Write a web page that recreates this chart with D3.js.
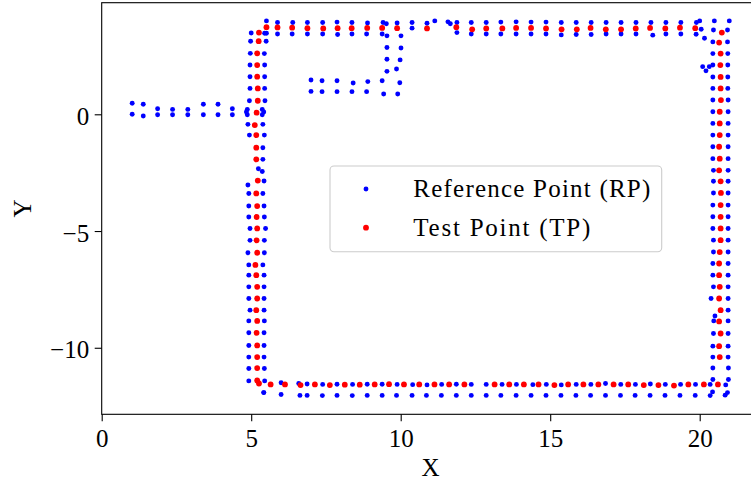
<!DOCTYPE html>
<html><head><meta charset="utf-8">
<script src="https://cdn.jsdelivr.net/npm/d3@7"></script>
<style>
body{margin:0;background:#fff}
text{font-family:"Liberation Serif","Times New Roman",serif;fill:#000}
</style>
</head><body>
<svg id="chart" width="751" height="484"></svg>
<script>
// ---------- data ----------
const xTicks = [0, 5, 10, 15, 20];
const yTicks = [-10, -5, 0];
const xDomain = [0, 22];
const yDomain = [-12.85, 4.78];
const legendLabels = ["Reference Point (RP)", "Test Point (TP)"];
const seriesColors = ["#0000ff", "#ff0000"];

// Reference points (blue), grouped by part of the path
const rpWestBranch = [
  [1.02,0.47],[1.39,0.43],[1.87,0.24],[2.37,0.21],[2.88,0.21],[3.40,0.43],[3.89,0.43],[4.37,0.24],[4.87,0.21],[5.37,0.21],
  [1.02,0.00],[1.39,-0.07],[1.87,-0.02],[2.37,-0.02],[2.88,-0.02],[3.40,-0.02],[3.89,-0.02],[4.37,-0.02],[4.87,-0.02],[5.37,-0.02],
  [4.84,0.10],[5.42,0.10]
];
const rpInnerBranch = [
  [7.00,1.47],[7.37,1.44],[7.87,1.44],[8.41,1.34],[8.90,1.40],[9.38,1.44],[9.97,1.35],
  [7.00,0.98],[7.37,0.97],[7.87,0.97],[8.37,0.97],[8.86,0.97],[9.43,0.87],[9.90,0.87],
  [9.54,3.36],[10.01,3.36],[9.54,2.86],[10.01,2.84],[9.54,2.36],[9.98,2.33],[9.54,1.84],[9.86,1.94]
];
const rpWestWall = [
  [5.00,3.48],[4.98,3.13],[4.97,2.61],[4.96,2.11],[4.96,1.61],[4.96,1.11],[4.94,0.58],[4.89,-0.43],[4.94,-0.89],
  [4.89,-3.03],[4.92,-3.39],[4.92,-3.93],[4.92,-4.40],[4.96,-4.89],[4.96,-5.40],[4.89,-5.93],[4.92,-6.45],[4.92,-6.89],
  [4.92,-7.39],[4.92,-7.89],[4.96,-8.39],[4.92,-8.85],[4.92,-9.36],[4.92,-9.90],[4.92,-10.40],[4.92,-10.89],[4.92,-11.42],
  [5.45,3.47],[5.50,3.13],[5.44,2.60],[5.45,2.11],[5.45,1.61],[5.45,1.11],[5.46,0.58],[5.39,-0.43],[5.44,-0.89],
  [5.39,-1.43],[5.39,-1.93],[5.24,-2.33],[5.37,-2.45],[5.43,-2.86],[5.39,-3.39],[5.43,-3.93],[5.44,-4.40],[5.48,-4.89],
  [5.44,-5.40],[5.44,-5.93],[5.39,-6.45],[5.43,-6.89],[5.43,-7.39],[5.43,-7.89],[5.43,-8.39],[5.44,-8.85],[5.43,-9.36],
  [5.43,-9.90],[5.43,-10.40],[5.44,-10.89],[5.45,-11.42],[5.42,-11.92]
];
const rpNorthWall = [
  [5.51,4.00],[5.88,3.93],[6.39,3.93],[6.88,3.93],[7.39,3.93],[7.87,3.95],[8.37,3.93],[8.89,3.91],[9.41,3.93],[9.52,3.88],
  [9.88,3.91],[10.38,3.93],[10.88,3.90],[11.14,4.00],[11.58,3.96],[11.66,3.88],[11.88,3.93],[12.36,3.93],[12.86,3.93],
  [13.35,3.95],[13.86,3.96],[14.36,3.95],[14.86,3.95],[15.37,3.93],[15.87,3.93],[16.37,3.93],[16.87,3.93],[17.37,3.93],
  [17.87,3.93],[18.37,3.93],[18.87,3.93],[19.37,3.93],[19.89,3.93],[20.00,4.00],[20.49,4.00],[20.99,4.00],
  [5.51,3.47],[5.88,3.44],[6.37,3.44],[6.88,3.44],[7.39,3.44],[7.89,3.42],[8.37,3.44],[8.86,3.44],[9.38,3.44],
  [10.38,3.69],[11.88,3.50],[12.36,3.44],[12.86,3.44],[13.35,3.44],[13.86,3.44],[14.36,3.44],[14.86,3.44],[15.37,3.40],
  [15.87,3.42],[16.37,3.42],[16.87,3.44],[17.37,3.44],[17.87,3.44],[18.43,3.39],[18.87,3.44],[19.37,3.44],[19.88,3.43],
  [20.05,3.64],[20.16,3.26]
];
const rpEastWall = [
  [20.46,3.61],[20.44,3.10],[20.44,2.60],[20.44,2.11],[20.44,1.60],[20.44,1.11],[20.44,0.61],[20.44,0.11],[20.44,-0.39],
  [20.44,-0.89],[20.44,-1.39],[20.44,-1.90],[20.46,-2.40],[20.46,-2.87],[20.46,-3.37],[20.44,-3.89],[20.44,-4.39],
  [20.44,-4.89],[20.46,-5.39],[20.46,-5.90],[20.44,-6.39],[20.44,-6.89],[20.46,-7.39],[20.38,-7.89],[20.51,-8.64],
  [20.47,-8.85],[20.46,-9.39],[20.44,-9.93],[20.44,-10.40],[20.44,-10.87],[20.44,-11.36],[20.43,-11.89],
  [20.93,3.61],[20.93,3.10],[20.94,2.60],[20.94,2.11],[20.94,1.60],[20.94,1.11],[20.95,0.61],[20.95,0.11],[20.95,-0.39],
  [20.95,-0.89],[20.95,-1.39],[20.95,-1.90],[20.95,-2.40],[20.95,-2.87],[20.95,-3.37],[20.95,-3.89],[20.95,-4.39],
  [20.95,-4.89],[20.95,-5.39],[20.95,-5.90],[20.95,-6.39],[20.95,-6.89],[20.95,-7.39],[20.95,-7.89],[20.95,-8.39],
  [20.95,-8.85],[20.95,-9.39],[20.95,-9.93],[20.95,-10.40],[20.96,-10.87],[20.96,-11.36],[20.93,-11.92],
  [20.10,2.04],[20.21,1.86],[20.32,2.04]
];
const rpSouthWall = [
  [6.00,-11.50],[6.59,-11.53],[6.87,-11.55],[7.39,-11.57],[7.87,-11.56],[8.39,-11.57],[8.88,-11.56],[9.38,-11.56],
  [9.88,-11.57],[10.40,-11.58],[10.88,-11.59],[11.37,-11.57],[11.86,-11.56],[12.36,-11.57],[12.86,-11.57],[13.39,-11.57],
  [13.87,-11.57],[14.42,-11.58],[14.87,-11.57],[15.37,-11.59],[15.87,-11.57],[16.36,-11.57],[16.85,-11.53],[17.36,-11.57],
  [17.85,-11.57],[18.35,-11.55],[18.85,-11.57],[19.36,-11.57],[19.86,-11.57],[20.35,-11.57],[20.87,-11.59],
  [5.42,-11.92],[6.00,-12.00],[6.63,-12.04],[6.87,-12.04],[7.38,-12.05],[7.87,-12.04],[8.38,-12.05],[8.88,-12.04],
  [9.38,-12.04],[9.86,-12.04],[10.38,-12.04],[10.86,-12.04],[11.36,-12.04],[11.86,-12.04],[12.36,-12.04],[12.86,-12.04],
  [13.35,-12.04],[13.86,-12.04],[14.36,-12.04],[14.86,-12.04],[15.36,-12.04],[15.86,-12.04],[16.35,-12.04],[16.85,-12.04],
  [17.35,-12.04],[17.84,-12.04],[18.34,-12.04],[18.84,-12.04],[19.34,-12.04],[19.85,-12.04],[20.35,-12.05],[20.85,-12.03]
];

// Test points (red)
const tpWestWall = [
  [5.26,3.50],[5.25,3.13],[5.20,2.61],[5.20,2.11],[5.20,1.61],[5.22,1.11],[5.22,0.58],[5.18,0.07],[5.12,-0.46],
  [5.17,-0.89],[5.17,-1.43],[5.17,-1.93],[5.22,-2.84],[5.17,-3.39],[5.20,-3.93],[5.18,-4.40],[5.20,-4.89],[5.18,-5.40],
  [5.20,-5.93],[5.14,-6.45],[5.17,-6.89],[5.20,-7.39],[5.20,-7.89],[5.17,-8.39],[5.20,-8.85],[5.18,-9.36],[5.20,-9.90],
  [5.20,-10.40],[5.20,-10.87],[5.20,-11.40],[5.26,-11.53]
];
const tpNorthWall = [
  [5.51,3.73],[5.88,3.72],[6.37,3.71],[6.88,3.69],[7.41,3.68],[7.89,3.69],[8.36,3.69],[8.88,3.70],[9.38,3.70],[9.88,3.69],
  [10.88,3.68],[11.86,3.73],[12.39,3.64],[12.86,3.68],[13.40,3.68],[13.86,3.70],[14.36,3.70],[14.86,3.68],[15.38,3.64],
  [15.89,3.64],[16.35,3.70],[16.86,3.64],[17.37,3.64],[17.86,3.68],[18.34,3.70],[18.85,3.68],[19.34,3.71],[19.85,3.69]
];
const tpEastWall = [
  [20.74,3.50],[20.65,3.07],[20.70,2.60],[20.69,2.11],[20.70,1.60],[20.70,1.11],[20.71,0.61],[20.67,0.11],[20.67,-0.39],
  [20.67,-0.89],[20.65,-1.39],[20.67,-1.90],[20.65,-2.40],[20.70,-2.87],[20.71,-3.37],[20.70,-3.89],[20.70,-4.39],
  [20.70,-4.89],[20.70,-5.39],[20.67,-5.90],[20.65,-6.39],[20.65,-6.89],[20.67,-7.39],[20.65,-7.89],[20.70,-8.39],
  [20.65,-8.87],[20.70,-9.39],[20.65,-9.93],[20.67,-10.40]
];
const tpSouthWall = [
  [5.65,-11.57],[6.13,-11.57],[6.65,-11.60],[7.13,-11.57],[7.63,-11.60],[8.13,-11.58],[8.63,-11.58],[9.13,-11.57],
  [9.61,-11.56],[10.11,-11.57],[10.62,-11.57],[11.13,-11.57],[11.62,-11.57],[12.13,-11.57],[13.14,-11.57],[13.63,-11.57],
  [14.12,-11.57],[14.61,-11.57],[15.14,-11.60],[15.60,-11.57],[16.11,-11.57],[16.61,-11.57],[17.12,-11.57],[17.61,-11.57],
  [18.13,-11.60],[18.62,-11.60],[19.14,-11.62],[19.62,-11.57],[20.14,-11.57],[20.61,-11.57]
];

const rpPoints = [].concat(rpWestBranch, rpInnerBranch, rpWestWall, rpNorthWall, rpEastWall, rpSouthWall);
const tpPoints = [].concat(tpWestWall, tpNorthWall, tpEastWall, tpSouthWall);

// ---------- layout ----------
const svg = d3.select("#chart");
const mLeft = 101.7, mTop = 2.7, mBottom = 414.3;
const mRight = mLeft + 22 * 29.9;

const x = d3.scaleLinear().domain(xDomain).range([mLeft, mRight]);
const y = d3.scaleLinear().domain(yDomain).range([mBottom, mTop]);

const fmt = d => d < 0 ? "\u2212" + Math.abs(d) : String(d);

// points
svg.append("g").selectAll("circle").data(rpPoints).join("circle")
  .attr("cx", d => x(d[0])).attr("cy", d => y(d[1])).attr("r", 2.45)
  .attr("fill", seriesColors[0]);
svg.append("g").selectAll("circle").data(tpPoints).join("circle")
  .attr("cx", d => x(d[0])).attr("cy", d => y(d[1])).attr("r", 2.9)
  .attr("fill", seriesColors[1]);

// axes
const xAxis = svg.append("g").attr("transform", `translate(0,${mBottom})`)
  .call(d3.axisBottom(x).tickValues(xTicks).tickFormat(fmt).tickSize(7).tickPadding(7.5).tickSizeOuter(0));
const yAxis = svg.append("g").attr("transform", `translate(${mLeft},0)`)
  .call(d3.axisLeft(y).tickValues(yTicks).tickFormat(fmt).tickSize(7).tickPadding(5.5).tickSizeOuter(0));
[xAxis, yAxis].forEach(g => {
  g.select(".domain").remove();
  g.selectAll(".tick line").attr("stroke", "#000").attr("stroke-width", 1.1);
  g.selectAll(".tick text").attr("font-size", 25).attr("font-family", "Liberation Serif, serif").attr("fill", "#000");
});
yAxis.selectAll(".tick text").attr("dy", "0.4em");

// frame
svg.append("rect").attr("x", mLeft).attr("y", mTop).attr("width", mRight - mLeft).attr("height", mBottom - mTop)
  .attr("fill", "none").attr("stroke", "#000").attr("stroke-width", 1.1);

// axis labels
svg.append("text").attr("x", (mLeft + mRight) / 2).attr("y", 476).attr("text-anchor", "middle")
  .attr("font-size", 25).text("X");
svg.append("text").attr("transform", `translate(30.5,${(mTop + mBottom) / 2}) rotate(-90)`)
  .attr("text-anchor", "middle").attr("font-size", 25).text("Y");

// legend
const lg = svg.append("g");
lg.append("rect").attr("x", 330).attr("y", 166).attr("width", 331.7).attr("height", 85.7)
  .attr("rx", 4).attr("fill", "#fff").attr("fill-opacity", 0.8).attr("stroke", "#cccccc").attr("stroke-width", 1.1);
const legendY = [189, 227.7];
const legendBase = [197.3, 236];
const legendWidths = [237, 177];
legendLabels.forEach((lab, i) => {
  lg.append("circle").attr("cx", 366).attr("cy", legendY[i]).attr("r", i === 0 ? 2.45 : 2.9).attr("fill", seriesColors[i]);
  lg.append("text").attr("x", 413.3).attr("y", legendBase[i]).attr("font-size", 25)
    .attr("textLength", legendWidths[i]).attr("lengthAdjust", "spacing").text(lab);
});
</script>
</body></html>
